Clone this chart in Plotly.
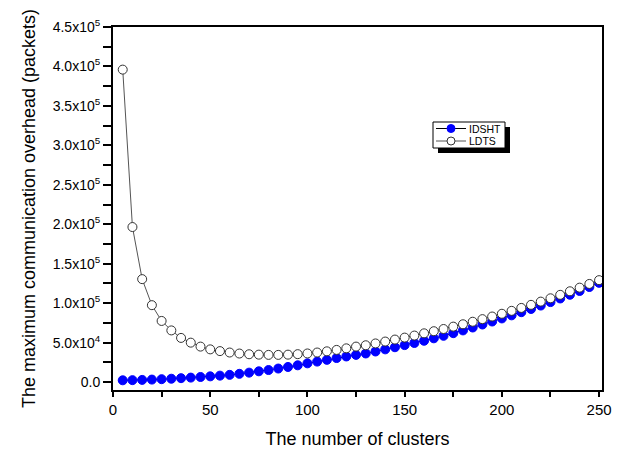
import plotly.graph_objects as go

clusters = [5, 10, 15, 20, 25, 30, 35, 40, 45, 50,
            55, 60, 65, 70, 75, 80, 85, 90, 95, 100,
            105, 110, 115, 120, 125, 130, 135, 140, 145, 150,
            155, 160, 165, 170, 175, 180, 185, 190, 195, 200,
            205, 210, 215, 220, 225, 230, 235, 240, 245, 250]

idsht = [2300, 2500, 2800, 3200, 3700, 4300, 5000, 5700, 6500, 7300,
         8200, 9200, 10500, 12000, 13700, 15300, 17200, 19200, 21300, 23800,
         26000, 28200, 30500, 32500, 34500, 36300, 38800, 41500, 44200, 46900,
         49600, 52400, 55500, 58700, 62000, 65500, 69200, 73000, 76800, 80700,
         84600, 88600, 92700, 97000, 101400, 106000, 110700, 115500, 120500, 125800]

ldts = [396000, 196500, 130500, 97500, 77500, 65500, 56000, 50000, 45000, 41500,
        39300, 37500, 36200, 35300, 34800, 34500, 34500, 34800, 35400, 36300,
        37500, 39000, 40800, 42800, 45000, 46700, 49000, 51400, 53900, 56400,
        59000, 61800, 64500, 67300, 70300, 73300, 76500, 79800, 83100, 86600,
        90300, 94000, 97900, 102000, 106200, 110600, 115100, 119700, 124400, 129200]

series_names = ["IDSHT", "LDTS"]

x_tickvals = [0, 50, 100, 150, 200, 250]
x_ticktext = ["0", "50", "100", "150", "200", "250"]
x_minorvals = [25, 75, 125, 175, 225]

y_tickvals = [0, 50000, 100000, 150000, 200000, 250000, 300000, 350000,
              400000, 450000]
y_ticktext = ["0.0", "5.0x10<sup>4</sup>", "1.0x10<sup>5</sup>",
              "1.5x10<sup>5</sup>", "2.0x10<sup>5</sup>", "2.5x10<sup>5</sup>",
              "3.0x10<sup>5</sup>", "3.5x10<sup>5</sup>", "4.0x10<sup>5</sup>",
              "4.5x10<sup>5</sup>"]
y_minorvals = [25000, 75000, 125000, 175000, 225000, 275000, 325000,
               375000, 425000]

FONT = "Liberation Sans, Arial, sans-serif"
Y_RANGE = [-10000, 450000]
OFF = 8  # page body margin offset
W, H = 624 - OFF, 452 - OFF
ML, MR, MT, MB = 113 - OFF, 22, 27 - OFF, 62
PW, PH = W - ML - MR, H - MT - MB

fig = go.Figure()
fig.add_trace(go.Scatter(
    x=clusters, y=idsht, name=series_names[0], mode="lines+markers",
    line=dict(color="black", width=1),
    marker=dict(symbol="circle", size=9, color="#0000FF",
                line=dict(color="#0000FF", width=1)),
    showlegend=False,
))
fig.add_trace(go.Scatter(
    x=clusters, y=ldts, name=series_names[1], mode="lines+markers",
    line=dict(color="#555555", width=1),
    marker=dict(symbol="circle", size=9, color="white",
                line=dict(color="#333333", width=1)),
    showlegend=False,
))

fig.update_layout(
    width=W, height=H,
    margin=dict(l=ML, r=MR, t=MT, b=MB, autoexpand=False),
    paper_bgcolor="white", plot_bgcolor="white",
    font=dict(family=FONT, color="black"),
    showlegend=False,
    xaxis=dict(
        range=[0, 251.5], tickmode="array", tickvals=x_tickvals,
        ticktext=x_ticktext, ticks="outside", ticklen=5, tickwidth=1.5,
        tickcolor="black", showline=True, linecolor="black", linewidth=1.5,
        mirror=True, showgrid=False, zeroline=False, automargin=False,
        minor=dict(tickmode="array", tickvals=x_minorvals, ticks="outside",
                   ticklen=5, tickwidth=1.5, tickcolor="black", showgrid=False),
        tickfont=dict(size=15, family=FONT),
        title=dict(text="The number of clusters", font=dict(size=18, family=FONT),
                   standoff=16),
    ),
    yaxis=dict(
        range=Y_RANGE, tickmode="array", tickvals=y_tickvals,
        ticktext=y_ticktext, ticks="outside", ticklen=8, tickwidth=1.5,
        tickcolor="black", showline=True, linecolor="black", linewidth=2,
        mirror=True, showgrid=False, zeroline=False, automargin=False,
        minor=dict(tickmode="array", tickvals=y_minorvals, ticks="outside",
                   ticklen=8, tickwidth=1.5, tickcolor="black", showgrid=False),
        tickfont=dict(size=14, family=FONT),
        title=dict(text="The maximum communication overhead (packets)",
                   font=dict(size=18, family=FONT), standoff=12),
    ),
    yaxis2=dict(
        range=Y_RANGE, overlaying="y", side="right", tickmode="array",
        tickvals=y_tickvals, showticklabels=False, ticks="inside", ticklen=8,
        tickwidth=1.5, tickcolor="black", showline=False, showgrid=False,
        zeroline=False, automargin=False,
        minor=dict(tickmode="array", tickvals=y_minorvals, ticks="inside",
                   ticklen=8, tickwidth=1.5, tickcolor="black", showgrid=False),
    ),
)


def px_x(px):
    return (px - OFF - ML) / PW


def px_y(py):
    return (H - MB - (py - OFF)) / PH


# legend box with drop shadow (pixel geometry converted to paper coords)
fig.add_shape(type="rect", xref="paper", yref="paper",
              x0=px_x(438), x1=px_x(510), y0=px_y(153), y1=px_y(127),
              fillcolor="black", line=dict(width=0))
fig.add_shape(type="rect", xref="paper", yref="paper",
              x0=px_x(433), x1=px_x(505), y0=px_y(148), y1=px_y(122),
              fillcolor="white", line=dict(color="black", width=1))

legend_rows = [128.5, 141.0]
legend_fill = ["#0000FF", "white"]
legend_edge = ["#0000FF", "#333333"]
legend_line = ["black", "#555555"]
for name, row, fill, edge, lcol in zip(series_names, legend_rows, legend_fill,
                                       legend_edge, legend_line):
    fig.add_shape(type="line", xref="paper", yref="paper",
                  x0=px_x(436), x1=px_x(466), y0=px_y(row), y1=px_y(row),
                  line=dict(color=lcol, width=1))
    fig.add_shape(type="circle", xref="paper", yref="paper",
                  x0=px_x(447), x1=px_x(455), y0=px_y(row + 4), y1=px_y(row - 4),
                  fillcolor=fill, line=dict(color=edge, width=1))
    fig.add_annotation(text=name, xref="paper", yref="paper",
                       x=px_x(468), y=px_y(row), xanchor="left", yanchor="middle",
                       showarrow=False, font=dict(size=10.5, family=FONT),
                       borderpad=0)

fig.write_html("out.html")
